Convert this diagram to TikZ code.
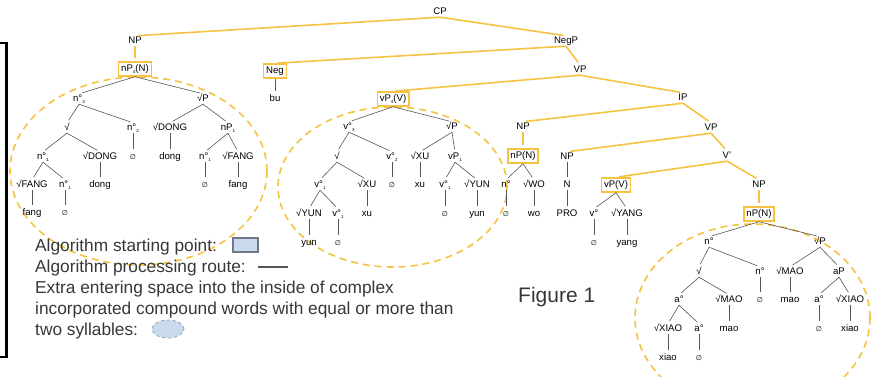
\documentclass[tikz,border=0pt]{standalone}
\usepackage{fontspec}
\setmainfont{Liberation Sans}
\newfontfamily\dejavu{DejaVu Sans}
\usetikzlibrary{shapes.geometric}
\definecolor{route}{RGB}{246,194,66}
\definecolor{edgegray}{RGB}{85,85,85}
\definecolor{legtext}{RGB}{55,55,55}
\definecolor{legfill}{RGB}{201,218,238}
\definecolor{legdraw}{RGB}{110,120,135}
\newcommand\sbi[1]{\raisebox{-2.4pt}{\fontsize{4.5}{5}\selectfont #1}}
\newcommand\emp{{\dejavu\fontsize{7}{8}\selectfont ∅}}
\begin{document}
\begin{tikzpicture}[x=1pt,y=-1pt,
  t/.style={font=\fontsize{9.6}{10}\selectfont, inner sep=0.5pt, text height=7pt, text depth=2pt},
  bx/.style={t, draw=route, line width=1.5pt, inner sep=2.5pt},
  eg/.style={draw=edgegray, line width=0.6pt, shorten >=3pt},
  rt/.style={draw=route, line width=1.6pt, shorten >=3pt},
  dsh/.style={draw=route, line width=1.6pt, dash pattern=on 7pt off 5pt},
  leg/.style={font=\fontsize{17.3}{20}\selectfont, text=legtext, anchor=base west, inner sep=0pt},
]
\useasboundingbox (0,0) rectangle (880,376);
% dashed ellipses
\draw[dsh] (138.5,171) ellipse [x radius=128.5pt, y radius=94pt];
\draw[dsh] (392.5,187) ellipse [x radius=114.5pt, y radius=80pt];
\draw[dsh] (752.5,318) ellipse [x radius=117.5pt, y radius=94pt];
% left bracket
\coordinate (bk1) at (0,43); \coordinate (bk2) at (6.5,43);
\coordinate (bk3) at (6.5,357); \coordinate (bk4) at (0,357);
\draw[black, line width=2.2pt] (bk1) -- (bk2) -- (bk3) -- (bk4);
% spine
\node[t] (cp) at (440,12) {CP};
\node[t] (npA) at (135,41) {NP};
\node[t] (negp) at (566,41) {NegP};
\node[bx] (npNA) at (135,69) {nP\sbi{4}(N)};
\node[bx] (neg) at (275,71) {Neg};
\node[t] (bu) at (275,99) {bu};
\node[t] (vpa) at (580,70) {VP};
\node[bx] (vpV) at (393,99) {vP\sbi{4}(V)};
\node[t] (ip) at (683,98) {IP};
\node[t] (npB) at (523,127) {NP};
\node[t] (vpb) at (711,128) {VP};
\node[bx] (npNB) at (523,156) {nP(N)};
\node[t] (npC) at (567,157) {NP};
\node[t] (vbar) at (727,156) {V'};
\node[t] (nB) at (506,185) {n°};
\node[t] (rWO) at (534,185) {√WO};
\node[t] (nN) at (567,185) {N};
\node[bx] (vpV2) at (616,185) {vP(V)};
\node[t] (npD) at (759,185) {NP};
\node[t] (eB) at (506,214) {\emp};
\node[t] (wo) at (534,214) {wo};
\node[t] (pro) at (567,214) {PRO};
\node[t] (vB) at (594,214) {v°};
\node[t] (rYANG) at (627,214) {√YANG};
\node[bx] (npND) at (759,214) {nP(N)};
\node[t] (eC) at (594,243) {\emp};
\node[t] (yang) at (627,243) {yang};
% left tree
\node[t] (lA) at (79,99) {n°\sbi{3}};
\node[t] (lB) at (203,99) {√P};
\node[t] (lC) at (67,128) {√};
\node[t] (lD) at (133,128) {n°\sbi{2}};
\node[t] (lE) at (170,128) {√DONG};
\node[t] (lF) at (228,128) {nP\sbi{1}};
\node[t] (lG) at (43,157) {n°\sbi{1}};
\node[t] (lH) at (100,157) {√DONG};
\node[t] (lI) at (133,157) {\emp};
\node[t] (lJ) at (170,157) {dong};
\node[t] (lK) at (205,157) {n°\sbi{1}};
\node[t] (lL) at (238,157) {√FANG};
\node[t] (lM) at (32,185) {√FANG};
\node[t] (lN) at (65,185) {n°\sbi{1}};
\node[t] (lO) at (100,185) {dong};
\node[t] (lP) at (205,185) {\emp};
\node[t] (lQ) at (238,185) {fang};
\node[t] (lR) at (32,213) {fang};
\node[t] (lS) at (65,213) {\emp};
% middle tree
\node[t] (mA) at (349,127) {v°\sbi{3}};
\node[t] (mB) at (452,127) {√P};
\node[t] (mC) at (337,157) {√};
\node[t] (mD) at (392,157) {v°\sbi{2}};
\node[t] (mE) at (420,157) {√XU};
\node[t] (mF) at (455,157) {vP\sbi{1}};
\node[t] (mG) at (320,185) {v°\sbi{1}};
\node[t] (mH) at (367,185) {√XU};
\node[t] (mI) at (392,185) {\emp};
\node[t] (mJ) at (420,185) {xu};
\node[t] (mK) at (445,185) {v°\sbi{1}};
\node[t] (mL) at (477,185) {√YUN};
\node[t] (mM) at (309,214) {√YUN};
\node[t] (mN) at (338,214) {v°\sbi{1}};
\node[t] (mO) at (367,214) {xu};
\node[t] (mP) at (445,214) {\emp};
\node[t] (mQ) at (477,214) {yun};
\node[t] (mR) at (309,243) {yun};
\node[t] (mS) at (338,243) {\emp};
% right tree
\node[t] (rA) at (709,242) {n°};
\node[t] (rB) at (820,242) {√P};
\node[t] (rC) at (699,272) {√};
\node[t] (rD) at (760,272) {n°};
\node[t] (rE) at (790,272) {√MAO};
\node[t] (rF) at (839,272) {aP};
\node[t] (rG) at (679,300) {a°};
\node[t] (rH) at (729,300) {√MAO};
\node[t] (rI) at (760,300) {\emp};
\node[t] (rJ) at (790,300) {mao};
\node[t] (rK) at (819,300) {a°};
\node[t] (rL) at (850,300) {√XIAO};
\node[t] (rM) at (668,329) {√XIAO};
\node[t] (rN) at (699,329) {a°};
\node[t] (rO) at (729,329) {mao};
\node[t] (rP) at (819,329) {\emp};
\node[t] (rQ) at (850,329) {xiao};
\node[t] (rR) at (668,358) {xiao};
\node[t] (rS) at (699,358) {\emp};
% gray edges
\foreach \a/\b in {neg/bu, npNB/nB, npNB/rWO, nB/eB, rWO/wo, npC/nN, nN/pro,
  vpV2/vB, vpV2/rYANG, vB/eC, rYANG/yang,
  npNA/lA, npNA/lB, lA/lC, lA/lD, lB/lE, lB/lF, lC/lG, lC/lH, lD/lI, lE/lJ,
  lF/lK, lF/lL, lG/lM, lG/lN, lH/lO, lK/lP, lL/lQ, lM/lR, lN/lS,
  vpV/mA, vpV/mB, mA/mC, mA/mD, mB/mE, mB/mF, mC/mG, mC/mH, mD/mI, mE/mJ,
  mF/mK, mF/mL, mG/mM, mG/mN, mH/mO, mK/mP, mL/mQ, mM/mR, mN/mS,
  npND/rA, npND/rB, rA/rC, rA/rD, rB/rE, rB/rF, rC/rG, rC/rH, rD/rI, rE/rJ,
  rF/rK, rF/rL, rG/rM, rG/rN, rH/rO, rK/rP, rL/rQ, rM/rR, rN/rS}
  \draw[eg] (\a.south) -- (\b.north);
% route edges
\foreach \a/\b in {cp/npA, cp/negp, npA/npNA, negp/neg, negp/vpa, vpa/vpV, vpa/ip,
  ip/npB, ip/vpb, npB/npNB, vpb/npC, vpb/vbar, vbar/vpV2, vbar/npD, npD/npND}
  \draw[rt] (\a.south) -- (\b.north);
% legend
\node[leg] (lg1) at (35,251) {Algorithm starting point:};
\node[draw=legdraw, fill=legfill, line width=1.2pt, minimum width=25pt, minimum height=14pt, inner sep=0pt] (lgbox) at (245.5,245) {};
\node[leg] (lg2) at (35,272) {Algorithm processing route:};
\coordinate (lgr1) at (258,267); \coordinate (lgr2) at (288,267);
\draw[draw=edgegray, line width=1.4pt] (lgr1) -- (lgr2);
\node[leg] (lg3) at (35,293) {Extra entering space into the inside of complex};
\node[leg] (lg4) at (35,314) {incorporated compound words with equal or more than};
\node[leg] (lg5) at (35,335) {two syllables:};
\node[ellipse, draw=legdraw!70, fill=legfill, dashed, line width=0.8pt, minimum width=32pt, minimum height=18pt, inner sep=0pt] (lgell) at (168,329) {};
\node[font=\fontsize{21}{24}\selectfont, text=legtext, anchor=base west, inner sep=0pt] (fig) at (518,302) {Figure 1};
\end{tikzpicture}
\end{document}
